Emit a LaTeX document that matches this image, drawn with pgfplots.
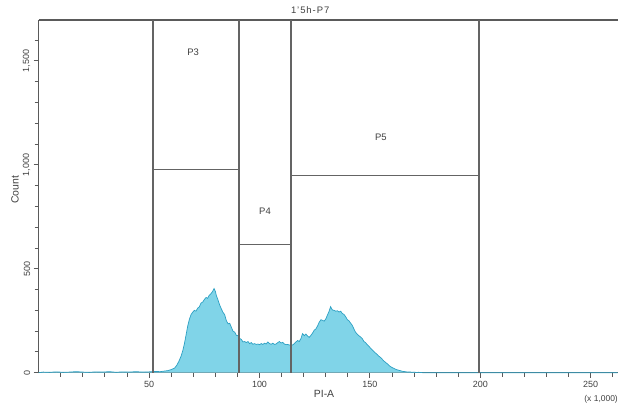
\documentclass[border=0pt]{standalone}
\usepackage{fontspec}
\setmainfont{Liberation Sans}
\usepackage{pgfplots}
\pgfplotsset{compat=1.18}
\definecolor{histfill}{RGB}{128,212,232}
\definecolor{histline}{RGB}{45,160,195}
\definecolor{gatecol}{RGB}{100,100,100}
\definecolor{axcol}{RGB}{90,90,90}
\begin{document}
\begin{tikzpicture}
\begin{axis}[
  name=ax,
  at={(0,0)}, anchor=south west,
  scale only axis,
  width=578.8bp, height=352.7bp,
  xmin=0, xmax=262.144, ymin=0, ymax=1697,
  axis x line*=box, axis y line*=left,
  xtick pos=bottom, ytick pos=left,
  tick align=outside,
  major tick length=5bp, minor tick length=4bp,
  xtick={50,100,150,200,250},
  minor xtick={10,20,...,260},
  ytick={0,500,1000,1500},
  minor ytick={100,200,...,1600},
  every tick/.style={axcol, line width=0.9bp},
  every minor tick/.style={axcol, line width=0.9bp},
  axis line style={axcol, line width=1.1bp},
  /pgf/number format/assume math mode=true,
  /pgf/number format/1000 sep={,},
  xticklabel style={font=\fontsize{9}{10}\selectfont, text=black!75},
  yticklabel style={font=\fontsize{9}{10}\selectfont, text=black!75, rotate=90, anchor=south},
  clip=false,
]
\addplot[fill=histfill, draw=histline, line width=0.7bp] coordinates {
(0,0)(2,3)(5,2)(8,4)(11,2)(14,3)(17,5)(20,3)(23,2)(26,4)(29,3)(32,5)(35,2)(38,4)(41,3)(44,5)(47,3)(50,4)(53,6)(55,5)(57,8)(58.5,10)
(60,15)(61.5,22)(62.5,35)(63.5,55)(64.5,80)(65.3,108)(66,140)(66.8,185)(67.5,225)(68.2,255)(69,280)(69.8,292)(70.5,300)(71.2,296)(72,310)(72.8,318)(73.5,335)(74.3,340)(75,352)(75.8,362)(76.5,358)(77.2,372)(78,380)(78.7,390)(79.4,405)(80,392)(80.5,370)(81.2,350)(82,325)(82.8,305)(83.5,290)(84.2,280)(85,250)(85.8,235)(86.5,238)(87.2,220)(88,200)(88.8,195)(89.5,180)(90.3,178)(91,165)(91.8,160)(92.5,148)(93.3,150)(94,145)(94.8,150)(95.5,140)(96.3,145)(97,137)(97.8,140)(98.5,136)(99.3,138)(100,135)(100.8,140)(101.5,136)(102.3,142)(103,138)(103.8,148)(104.5,140)(105.3,137)(106,142)(106.8,136)(107.5,138)(108.3,145)(109,150)(109.8,143)(110.5,146)(111.3,138)(112,135)(112.8,136)(113.5,133)(114.3,135)(115,133)(115.8,140)(116.5,148)(117.3,155)(118,150)(118.8,165)(119.5,188)(120.3,178)(121,186)(121.8,176)(122.5,170)(123.3,180)(124,190)(124.8,205)(125.5,210)(126.3,225)(127,242)(127.8,255)(128.5,252)(129.3,248)(130,258)(130.8,278)(131.5,295)(132.2,318)(133,302)(133.8,300)(134.5,296)(135.3,298)(136,292)(136.8,296)(137.5,285)(138.3,280)(139,270)(139.8,255)(140.5,250)(141.3,238)(142,228)(142.8,210)(143.5,195)(144.3,185)(145,178)(145.8,172)(146.5,165)(147.3,150)(148,145)(148.8,135)(149.5,128)(150.3,118)(151,110)(151.8,102)(152.5,95)(153.3,88)(154,80)(155,72)(156,60)(157,50)(158,42)(159,32)(160,25)(161,20)(162,15)(163,12)(164,9)(165,6)(166,5)(167,3)(168,4)(169,2)(170,3)(171,1)(172,2)(174,0)(262.144,0)
};
% gates
\addplot[gatecol, line width=1.15bp] coordinates {(51.8,0) (51.8,1697)};
\addplot[gatecol, line width=1.15bp] coordinates {(90.7,0) (90.7,1697)};
\addplot[gatecol, line width=1.15bp] coordinates {(114.3,0) (114.3,1697)};
\addplot[gatecol, line width=1.15bp] coordinates {(199.4,0) (199.4,1697)};
\addplot[gatecol, line width=1.15bp] coordinates {(51.8,979) (90.7,979)};
\addplot[gatecol, line width=1.15bp] coordinates {(90.7,615) (114.3,615)};
\addplot[gatecol, line width=1.15bp] coordinates {(114.3,947) (199.4,947)};
\node[font=\fontsize{9.5}{10}\selectfont, text=black!75] at (axis cs:69.9,1543) {P3};
\node[font=\fontsize{9.5}{10}\selectfont, text=black!75] at (axis cs:102.5,777) {P4};
\node[font=\fontsize{9.5}{10}\selectfont, text=black!75] at (axis cs:155,1134) {P5};
\node[font=\fontsize{9.5}{10}\selectfont\addfontfeature{LetterSpace=10}, text=black!75] at ([yshift=10bp]rel axis cs:0.469,1) {1'5h-P7};
\node[font=\fontsize{10.5}{11}\selectfont, text=black!75] at ([yshift=-21.3bp]rel axis cs:0.493,0) {PI-A};
\node[font=\fontsize{8.5}{9}\selectfont, text=black!75, anchor=east, inner sep=0pt] at ([yshift=-26.3bp]rel axis cs:1.0009,0) {(x 1,000)};
\node[font=\fontsize{10.5}{11}\selectfont, text=black!75, rotate=90] at ([xshift=-23.7bp]rel axis cs:0,0.518) {Count};
\end{axis}
\pgfresetboundingbox
\path[use as bounding box] ([xshift=-38.7bp,yshift=-34.3bp]ax.south west) rectangle ([xshift=0.5bp,yshift=20bp]ax.north east);
\end{tikzpicture}
\end{document}
